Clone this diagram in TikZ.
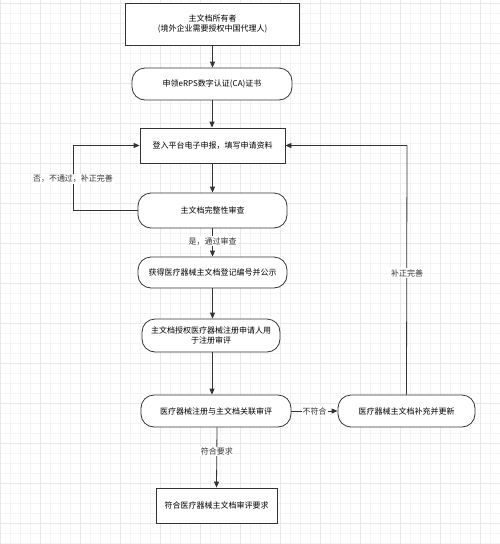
\documentclass[tikz,border=0pt]{standalone}
\usepackage{fontspec}
\setmainfont{Noto Sans CJK SC}
\usetikzlibrary{arrows.meta,positioning,calc}
\definecolor{linec}{HTML}{333333}
\definecolor{gridminor}{HTML}{F3F3F3}
\definecolor{gridmajor}{HTML}{E8E8E8}
\tikzset{
  base/.style={draw=linec, line width=0.8pt, align=center, font=\fontsize{8}{10}\selectfont, inner sep=1pt, fill=white},
  rectbox/.style={base, rectangle},
  roundbox/.style={base, rectangle, rounded corners=13pt},
  conn/.style={draw=linec, line width=0.8pt, -{Triangle[length=6pt,width=5pt]}},
  plain/.style={draw=linec, line width=0.8pt},
  lbl/.style={fill=white, font=\fontsize{8}{10}\selectfont, inner sep=1pt, text=linec}
}
\begin{document}
\begin{tikzpicture}[x=1pt,y=-1pt]
\useasboundingbox (0,0) rectangle (500,544);
\fill[white] (0,0) rectangle (500,544);
\foreach \i in {0,10,...,500} \draw[gridminor, line width=0.5pt] (\i,0) -- (\i,544);
\foreach \j in {3,13,...,544} \draw[gridminor, line width=0.5pt] (0,\j) -- (500,\j);
\foreach \i in {0,40,...,500} \draw[gridmajor, line width=0.6pt] (\i,0) -- (\i,544);
\foreach \j in {3,43,...,544} \draw[gridmajor, line width=0.6pt] (0,\j) -- (500,\j);

\node[rectbox, minimum width=174pt, minimum height=42pt] (n1) at (212.5,24) {主文档所有者\\(境外企业需要授权中国代理人)};
\node[roundbox, minimum width=160pt, minimum height=32pt] (n2) at (212,84) {申领eRPS数字认证(CA)证书};
\node[rectbox, minimum width=145pt, minimum height=35pt] (n3) at (212.5,145.5) {登入平台电子申报，填写申请资料};
\node[roundbox, minimum width=149pt, minimum height=35pt] (n4) at (212.5,210.5) {主文档完整性审查};
\node[roundbox, minimum width=149pt, minimum height=31pt] (n5) at (212.5,272.5) {获得医疗器械主文档登记编号并公示};
\node[roundbox, minimum width=138pt, minimum height=33pt] (n6) at (211,335.5) {主文档授权医疗器械注册申请人用\\于注册审评};
\node[roundbox, minimum width=150pt, minimum height=32pt] (n7) at (216,411) {医疗器械注册与主文档关联审评};
\node[roundbox, minimum width=137pt, minimum height=32pt] (n8) at (406.5,411) {医疗器械主文档补充并更新};
\node[rectbox, minimum width=121pt, minimum height=35pt] (n9) at (216.5,505.5) {符合医疗器械主文档审评要求};

\coordinate (lc1) at (73,210.5);
\coordinate (lc2) at (73,145.5);
\coordinate (rc1) at (407,145.5);

\draw[conn] (n1.south) -- (n1.south |- n2.north);
\draw[conn] (n2.south) -- (n2.south |- n3.north);
\draw[conn] (n3.south) -- (n3.south |- n4.north);
\draw[conn] (n4.south) -- (n4.south |- n5.north) node[lbl, pos=0.45] (l1) {是，通过审查};
\draw[conn] (n5.south) -- (n5.south |- n6.north);
\draw[conn] ($(n6.south)+(1,0)$) -- ($(n6.south |- n7.north)+(1,0)$);
\draw[conn] ($(n7.south)+(1,0)$) -- (n9.north) node[lbl, pos=0.4] (l2) {符合要求};
\draw[conn] (n7.east) -- (n8.west) node[lbl, midway] (l3) {不符合};
\draw[conn] (n4.west) -- (lc1) -- (lc2) -- (n3.west);
\node[lbl] (l4) at (73,179) {否，不通过，补正完善};
\draw[conn] (n8.north) -- (rc1) -- (n3.east);
\node[lbl] (l5) at (407,273) {补正完善};
\end{tikzpicture}
\end{document}
